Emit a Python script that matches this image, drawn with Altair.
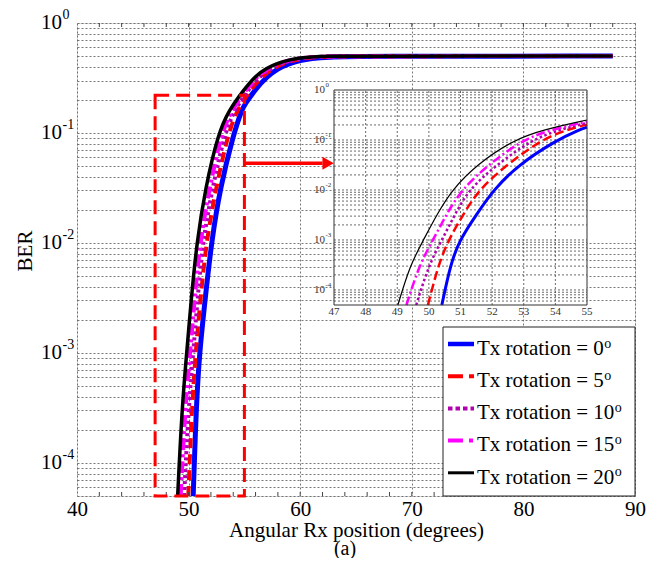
import altair as alt
import pandas as pd

FONT = "Liberation Serif"

# ---------------- data ----------------
SERIES = ["Tx rotation = 0", "Tx rotation = 5", "Tx rotation = 10",
          "Tx rotation = 15", "Tx rotation = 20"]
DEGREES = ["0", "5", "10", "15", "20"]
COLORS = ["#0000FF", "#FF0000", "#B000B0", "#FF00FF", "#000000"]

# lower part of each curve: Rx angle at which BER crosses these levels
BER_LEVELS = [5.0e-5, 3.2e-4, 1.0e-3, 3.2e-3, 1.0e-2, 3.2e-2, 0.10, 0.16]
X_AT_LEVEL_0 = [50.41, 50.68, 50.97, 51.50, 52.04, 52.83, 54.05, 54.75]
X_AT_LEVEL_5 = [49.97, 50.30, 50.62, 51.08, 51.57, 52.46, 53.55, 54.35]
X_AT_LEVEL_10 = [49.60, 50.00, 50.41, 50.82, 51.25, 52.14, 53.25, 54.10]
X_AT_LEVEL_15 = [49.29, 49.70, 50.13, 50.55, 51.02, 51.88, 52.95, 53.85]
X_AT_LEVEL_20 = [49.02, 49.41, 49.83, 50.25, 50.73, 51.51, 52.67, 53.60]

# upper part of each curve: BER at these Rx angles
X_UPPER = [55, 56, 57, 58, 59, 60, 61, 62.5, 65, 88]
BER_UPPER_0 = [0.180, 0.251, 0.324, 0.385, 0.427, 0.457, 0.476, 0.490, 0.499, 0.5]
BER_UPPER_5 = [0.204, 0.282, 0.355, 0.407, 0.447, 0.471, 0.486, 0.495, 0.5, 0.5]
BER_UPPER_10 = [0.219, 0.302, 0.367, 0.417, 0.452, 0.475, 0.489, 0.497, 0.5, 0.5]
BER_UPPER_15 = [0.234, 0.316, 0.380, 0.427, 0.457, 0.479, 0.490, 0.498, 0.5, 0.5]
BER_UPPER_20 = [0.251, 0.331, 0.389, 0.431, 0.462, 0.481, 0.492, 0.498, 0.5, 0.5]

X_LOWER_ALL = [X_AT_LEVEL_0, X_AT_LEVEL_5, X_AT_LEVEL_10, X_AT_LEVEL_15, X_AT_LEVEL_20]
BER_UPPER_ALL = [BER_UPPER_0, BER_UPPER_5, BER_UPPER_10, BER_UPPER_15, BER_UPPER_20]

# axes
MAIN_X_TICKS = [40, 50, 60, 70, 80, 90]
MAIN_X_MINOR = [42, 44, 46, 48, 52, 54, 56, 58, 62, 64, 66, 68, 72, 74, 76, 78, 82, 84, 86, 88]
INSET_X_TICKS = [47, 48, 49, 50, 51, 52, 53, 54, 55]
DECADES = [1.0, 0.1, 0.01, 0.001, 0.0001]
EXPONENTS = ["0", "-1", "-2", "-3", "-4"]
Y_GRID = [5e-5, 6e-5, 7e-5, 8e-5, 9e-5,
          1e-4, 2e-4, 3e-4, 4e-4, 5e-4, 6e-4, 7e-4, 8e-4, 9e-4,
          1e-3, 2e-3, 3e-3, 4e-3, 5e-3, 6e-3, 7e-3, 8e-3, 9e-3,
          1e-2, 2e-2, 3e-2, 4e-2, 5e-2, 6e-2, 7e-2, 8e-2, 9e-2,
          0.1, 0.2, 0.3, 0.4, 0.5, 0.6, 0.7, 0.8, 0.9, 1.0]

# annotations (zoom box and arrow)
BOX_X = [47, 55]
BOX_Y = [5e-5, 0.22]
ARROW_X = [55, 62.0]
ARROW_Y = 0.053
ARROW_HEAD_X = 62.5

# ---------------- styling ----------------
W, H = 558, 473
MAIN_W = [5, 4, 4, 4, 3.5]
MAIN_DASH = [None, [10, 6], [3, 3], [12, 4, 3, 4], None]
IN_W = [3, 2.5, 2.5, 2.5, 1.2]
IN_DASH = [None, [9, 4], [2.5, 2.5], [9, 3, 2, 3], None]
LEG_W = [4.5, 4, 4, 4, 3]
LEG_DASH = [None, [15, 6], [4.5, 3], [15, 6, 4, 6], None]
GRID_C = "#555555"

rows = []
for name, xl, bu in zip(SERIES, X_LOWER_ALL, BER_UPPER_ALL):
    for x, b in zip(xl, BER_LEVELS):
        rows.append({"series": name, "x": x, "y": b})
    for x, b in zip(X_UPPER, bu):
        rows.append({"series": name, "x": x, "y": b})
df = pd.DataFrame(rows)

xs_main = alt.Scale(domain=[40, 90], nice=False, zero=False)
ys_main = alt.Scale(type="log", domain=[5e-5, 1], nice=False)
xs_in = alt.Scale(domain=[47, 55], range=[257, 510], nice=False, zero=False)
ys_in = alt.Scale(type="log", domain=[5e-5, 1], range=[282, 67], nice=False)

X_AX = alt.Axis(values=MAIN_X_TICKS, grid=True, gridDash=[2, 2], gridColor=GRID_C,
                gridWidth=0.8, ticks=False, domain=False, labelFont=FONT,
                labelFontSize=21, labelColor="black", labelPadding=2, labelFlush=False,
                title="Angular Rx position (degrees)", titleFont=FONT, titleFontSize=21,
                titleFontWeight="normal", titleColor="black", titlePadding=0)
Y_AX = alt.Axis(values=Y_GRID, grid=True, gridDash=[2, 2], gridColor=GRID_C,
                gridWidth=0.8, ticks=False, domain=False, labels=False, title="")


def mx(axis=None):
    if axis is None:
        return alt.X("x:Q", scale=xs_main, axis=None)
    return alt.X("x:Q", scale=xs_main, axis=axis)


def my(axis=None):
    if axis is None:
        return alt.Y("y:Q", scale=ys_main, axis=None)
    return alt.Y("y:Q", scale=ys_main, axis=axis)


one = pd.DataFrame({"k": [0]})
layers = []

# curves (axes on the first one only)
for i, name in enumerate(SERIES):
    kw = dict(color=COLORS[i], strokeWidth=MAIN_W[i], interpolate="basis", clip=True)
    if MAIN_DASH[i]:
        kw["strokeDash"] = MAIN_DASH[i]
    enc = dict(x=mx(X_AX), y=my(Y_AX)) if i == 0 else dict(x=mx(), y=my())
    layers.append(alt.Chart(df[df.series == name]).mark_line(**kw).encode(**enc))

# inward minor ticks on x
tick_df = pd.DataFrame({"x": MAIN_X_MINOR + MAIN_X_TICKS[1:-1]})
layers.append(alt.Chart(tick_df).mark_rule(color="#444", strokeWidth=1).encode(
    x=mx(), y=alt.value(H), y2=alt.value(H - 4)))
layers.append(alt.Chart(tick_df).mark_rule(color="#444", strokeWidth=1).encode(
    x=mx(), y=alt.value(0), y2=alt.value(4)))

# zoom box
box_df = pd.DataFrame({"x": [BOX_X[0]], "x2": [BOX_X[1]], "y": [BOX_Y[0]], "y2": [BOX_Y[1]]})
layers.append(alt.Chart(box_df).mark_rect(filled=False, stroke="#FF0000", strokeWidth=3,
                                          strokeDash=[14, 7]).encode(
    x=mx(), x2="x2:Q", y=my(), y2="y2:Q"))

# arrow
arr_df = pd.DataFrame({"x": [ARROW_X[0]], "x2": [ARROW_X[1]], "y": [ARROW_Y]})
layers.append(alt.Chart(arr_df).mark_rule(color="#FF0000", strokeWidth=3.5).encode(
    x=mx(), x2="x2:Q", y=my()))
head_df = pd.DataFrame({"x": [ARROW_HEAD_X], "y": [ARROW_Y]})
layers.append(alt.Chart(head_df).mark_point(shape="triangle-right", filled=True,
                                            color="#FF0000", size=170, opacity=1).encode(
    x=mx(), y=my()))

# y tick labels 10^k
dec_df = pd.DataFrame({"y": DECADES, "e": EXPONENTS})
layers.append(alt.Chart(dec_df).mark_text(align="right", baseline="middle", font=FONT,
                                          fontSize=21, color="black").encode(
    x=alt.value(-15), y=my(), text=alt.value("10")))
layers.append(alt.Chart(dec_df).mark_text(align="left", baseline="middle", font=FONT,
                                          fontSize=14, color="black", dy=-8).encode(
    x=alt.value(-14.5), y=my(), text="e:N"))

# BER title and caption
layers.append(alt.Chart(one).mark_text(angle=270, align="center", baseline="middle",
                                       font=FONT, fontSize=21, color="black").encode(
    x=alt.value(-51), y=alt.value(228), text=alt.value("BER")))
layers.append(alt.Chart(one).mark_text(align="center", baseline="middle",
                                       font=FONT, fontSize=20, color="black").encode(
    x=alt.value(268), y=alt.value(526), text=alt.value("(a)")))

# legend
layers.append(alt.Chart(one).mark_rect(fill="white", stroke="#222", strokeWidth=1).encode(
    x=alt.value(366), x2=alt.value(558), y=alt.value(304), y2=alt.value(473)))
TW = {"T": 0.611, "x": 0.5, " ": 0.25, "r": 0.333, "o": 0.5, "t": 0.278, "a": 0.444,
      "i": 0.278, "n": 0.5, "=": 0.564}
for i, name in enumerate(SERIES):
    ly = 321 + 32.2 * i
    kw = dict(color=COLORS[i], strokeWidth=LEG_W[i])
    if LEG_DASH[i]:
        kw["strokeDash"] = LEG_DASH[i]
    layers.append(alt.Chart(one).mark_rule(**kw).encode(
        x=alt.value(371), x2=alt.value(397), y=alt.value(ly)))
    layers.append(alt.Chart(one).mark_text(align="left", baseline="alphabetic", font=FONT,
                                           fontSize=21, color="black").encode(
        x=alt.value(400), y=alt.value(ly + 10.7), text=alt.value(name)))
    w = sum(TW.get(c, 0.5) for c in name) * 21
    layers.append(alt.Chart(one).mark_text(align="left", baseline="alphabetic", font=FONT,
                                           fontSize=14, color="black").encode(
        x=alt.value(400 + w + 0.5), y=alt.value(ly + 3.5), text=alt.value("o")))

# ---------------- inset ----------------


def ix():
    return alt.X("x:Q", scale=xs_in, axis=None)


def iy():
    return alt.Y("y:Q", scale=ys_in, axis=None)


bg_df = pd.DataFrame({"x": [47], "x2": [55], "y": [5e-5], "y2": [1.0]})
layers.append(alt.Chart(bg_df).mark_rect(fill="white").encode(
    x=ix(), x2="x2:Q", y=iy(), y2="y2:Q"))
vg_df = pd.DataFrame({"x": INSET_X_TICKS[1:-1], "y": 5e-5, "y2": 1.0})
layers.append(alt.Chart(vg_df).mark_rule(color="#444", strokeWidth=0.8, strokeDash=[2, 2]).encode(
    x=ix(), y=iy(), y2="y2:Q"))
hg_df = pd.DataFrame({"y": Y_GRID[1:-1], "x": 47, "x2": 55})
layers.append(alt.Chart(hg_df).mark_rule(color="#444", strokeWidth=0.8, strokeDash=[2, 2]).encode(
    x=ix(), x2="x2:Q", y=iy()))
for i, name in enumerate(SERIES):
    kw = dict(color=COLORS[i], strokeWidth=IN_W[i], interpolate="basis")
    if IN_DASH[i]:
        kw["strokeDash"] = IN_DASH[i]
    sub = df[(df.series == name) & (df.x <= 55)]
    layers.append(alt.Chart(sub).mark_line(**kw).encode(x=ix(), y=iy()))
layers.append(alt.Chart(bg_df).mark_rect(filled=False, stroke="#333", strokeWidth=1).encode(
    x=ix(), x2="x2:Q", y=iy(), y2="y2:Q"))
ixl_df = pd.DataFrame({"x": INSET_X_TICKS, "lab": [str(v) for v in INSET_X_TICKS]})
layers.append(alt.Chart(ixl_df).mark_text(baseline="middle", font=FONT, fontSize=11,
                                          color="#333").encode(
    x=ix(), y=alt.value(289), text="lab:N"))
layers.append(alt.Chart(dec_df).mark_text(align="right", baseline="middle", font=FONT,
                                          fontSize=11, color="#333").encode(
    x=alt.value(248), y=iy(), text=alt.value("10")))
layers.append(alt.Chart(dec_df).mark_text(align="left", baseline="middle", font=FONT,
                                          fontSize=7, color="#333", dy=-5).encode(
    x=alt.value(248.5), y=iy(), text="e:N"))

chart = alt.layer(*layers).resolve_scale(x="independent", y="independent").properties(
    width=W, height=H,
    padding={"left": 69, "top": 15, "right": 17, "bottom": 62},
    autosize=alt.AutoSizeParams(type="none"),
).configure_view(stroke="#444", strokeWidth=1.5).configure(background="white")

chart.save("out.html", embed_options={"renderer": "svg", "actions": False})
